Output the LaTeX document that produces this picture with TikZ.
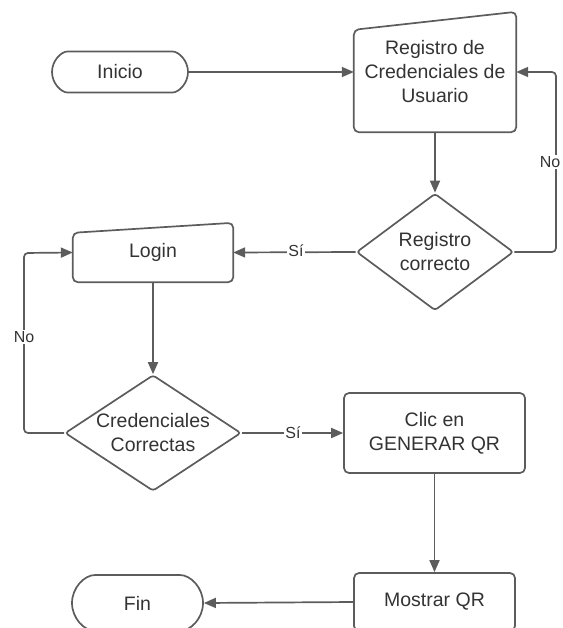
\documentclass[tikz,border=0pt]{standalone}
\usepackage{fontspec}
\setmainfont{Liberation Sans}
\usetikzlibrary{arrows.meta,shapes.geometric,shapes.misc}
\definecolor{edge}{HTML}{5C5C5C}
\definecolor{ink}{HTML}{333333}
\tikzset{
  every node/.style={text=ink, font=\fontsize{19.5}{24}\selectfont, align=center, inner sep=0pt},
  outline/.style={draw=edge, line width=1.7pt, rounded corners=5pt},
  terminal/.style={outline, rounded rectangle},
  decision/.style={draw=edge, line width=1.7pt, diamond, rounded corners=3pt},
  holder/.style={draw=none, rectangle},
  flow/.style={draw=edge, line width=1.7pt, -{Triangle[length=12pt,width=10pt]}, rounded corners=4pt},
  tag/.style={fill=white, font=\fontsize{16}{18}\selectfont, inner sep=1pt}
}
\begin{document}
\begin{tikzpicture}[x=1pt,y=-1pt]
\useasboundingbox (0,0) rectangle (562,628);

% start / end terminals
\node[terminal, minimum width=136pt, minimum height=41pt] (inicio) at (120,72) {Inicio};
\node[terminal, minimum width=131pt, minimum height=56pt] (fin) at (137.5,603) {Fin};

% manual input: registration
\node[holder, minimum width=162pt, minimum height=120pt] (reg) at (435,72) {Registro de\\Credenciales de\\Usuario};
\draw[outline] (reg.south west) -- ([yshift=-18pt]reg.north west) -- (reg.north east) -- (reg.south east) -- cycle;

% manual input: login
\node[holder, minimum width=160pt, minimum height=59pt] (login) at (153,252.5) {Login};
\draw[outline] (login.south west) -- ([yshift=-10pt]login.north west) -- (login.north east) -- (login.south east) -- cycle;

% decisions
\node[decision, minimum width=157pt, minimum height=117pt, aspect=1.34] (d1) at (435,252) {};
\node (d1text) at (435,252) {Registro\\correcto};
\node[decision, minimum width=176pt, minimum height=116pt, aspect=1.52] (d2) at (153,433) {};
\node (d2text) at (153,433) {Credenciales\\Correctas};

% processes
\node[outline, minimum width=181pt, minimum height=80pt] (clic) at (434.5,433) {Clic en\\GENERAR QR};
\node[outline, minimum width=161pt, minimum height=58pt] (mostrar) at (434.5,602) {Mostrar QR};

% bend points of the loops
\coordinate (r1) at (556,252);
\coordinate (r2) at (556,72);
\coordinate (l1) at (24,433);
\coordinate (l2) at (24,253);

% connectors
\draw[flow] (inicio.east) -- (reg.west);
\draw[flow] (reg.south) -- (d1.north);
\draw[flow] (d1.east) -- (r1) -- (r2) -- (reg.east);
\draw[flow] (d1.west) -- (login.east);
\draw[flow] (login.south) -- (d2.north);
\draw[flow] (d2.west) -- (l1) -- (l2) -- (login.west);
\draw[flow] (d2.east) -- (clic.west);
\draw[flow] (clic.south) -- (mostrar.north);
\draw[flow] (mostrar.west) -- (fin.east);

% branch labels
\node[tag] (no1) at (550,162) {No};
\node[tag] (si1) at (296,251) {Sí};
\node[tag] (no2) at (24,337) {No};
\node[tag] (si2) at (293,433) {Sí};
\end{tikzpicture}
\end{document}
